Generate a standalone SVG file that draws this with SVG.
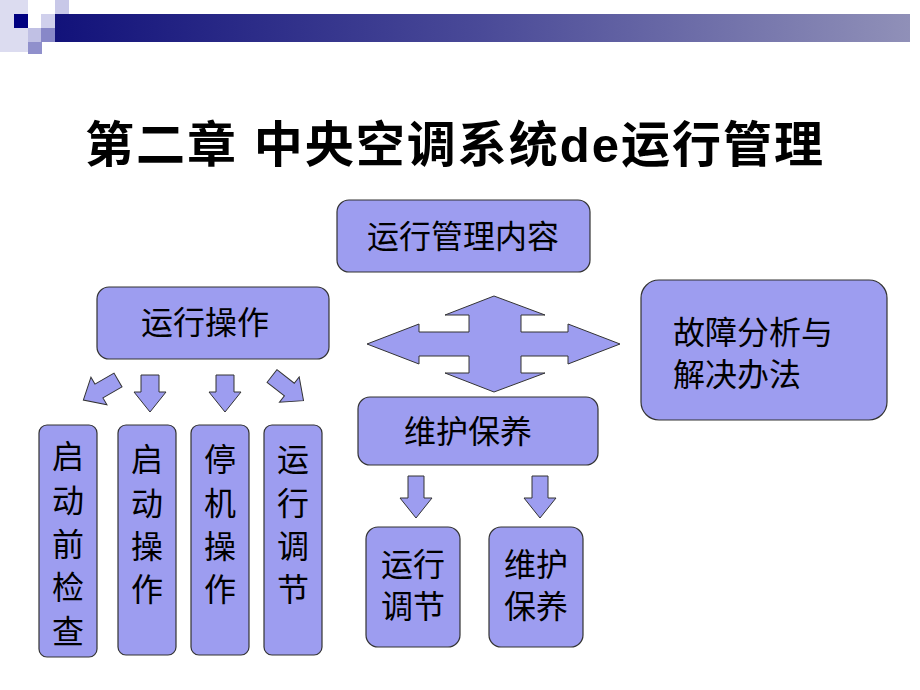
<svg xmlns="http://www.w3.org/2000/svg" width="920" height="690" viewBox="0 0 920 690">
<defs>
<linearGradient id="bar" x1="0" x2="1"><stop offset="0" stop-color="#12127a"/><stop offset="0.5" stop-color="#4a4a98"/><stop offset="1" stop-color="#9090b8"/></linearGradient>
<style>
.b{fill:#9d9df0;stroke:#333;stroke-width:1.2}
.a{fill:#9d9df0;stroke:#333;stroke-width:1}
text{font-family:"Liberation Sans","Noto Sans CJK SC",sans-serif;fill:#000}
.t{font-size:32px}
</style>
</defs>
<rect width="920" height="690" fill="#fff"/>
<rect x="0" y="0" width="28" height="52" fill="#dcdcf0"/>
<rect x="55" y="0" width="14" height="14" fill="#c8c8e8"/>
<rect x="14" y="14" width="14" height="14" fill="#000080"/>
<rect x="41" y="14" width="14" height="14" fill="#d0d0ec"/>
<rect x="55" y="14" width="14" height="14" fill="#a0a0d8"/>
<rect x="28" y="28" width="14" height="14" fill="#c0c0e4"/>
<rect x="41" y="28" width="14" height="14" fill="#8888c8"/>
<rect x="28" y="42" width="14" height="12" fill="#9090cc"/>
<rect x="55" y="14" width="855" height="28" fill="url(#bar)"/>
<text x="455" y="162" text-anchor="middle" font-size="49" font-weight="bold" letter-spacing="2">第二章  中央空调系统de运行管理</text>
<g id="n0"><rect class="b" x="337" y="200" width="253" height="72" rx="12"/><text class="t" x="463" y="248" text-anchor="middle">运行管理内容</text></g>
<g id="n1"><rect class="b" x="97" y="287" width="232" height="72" rx="12"/><text class="t" x="205" y="334" text-anchor="middle">运行操作</text></g>
<g id="n2"><rect class="b" x="641" y="280" width="246" height="140" rx="18"/><text class="t" x="673" y="344">故障分析与</text><text class="t" x="673" y="386">解决办法</text></g>
<g id="n3"><rect class="b" x="358" y="397" width="240" height="68" rx="12"/><text class="t" x="468" y="443" text-anchor="middle">维护保养</text></g>
<g id="n4"><rect class="b" x="39" y="425" width="58" height="232" rx="8"/><text class="t" x="68" y="468" text-anchor="middle">启</text><text class="t" x="68" y="512" text-anchor="middle">动</text><text class="t" x="68" y="556" text-anchor="middle">前</text><text class="t" x="68" y="599" text-anchor="middle">检</text><text class="t" x="68" y="643" text-anchor="middle">查</text></g>
<g id="n5"><rect class="b" x="118" y="425" width="58" height="230" rx="8"/><text class="t" x="147" y="471" text-anchor="middle">启</text><text class="t" x="147" y="515" text-anchor="middle">动</text><text class="t" x="147" y="558" text-anchor="middle">操</text><text class="t" x="147" y="601" text-anchor="middle">作</text></g>
<g id="n6"><rect class="b" x="191" y="425" width="58" height="230" rx="8"/><text class="t" x="220" y="471" text-anchor="middle">停</text><text class="t" x="220" y="515" text-anchor="middle">机</text><text class="t" x="220" y="558" text-anchor="middle">操</text><text class="t" x="220" y="601" text-anchor="middle">作</text></g>
<g id="n7"><rect class="b" x="264" y="425" width="58" height="230" rx="8"/><text class="t" x="293" y="471" text-anchor="middle">运</text><text class="t" x="293" y="515" text-anchor="middle">行</text><text class="t" x="293" y="558" text-anchor="middle">调</text><text class="t" x="293" y="601" text-anchor="middle">节</text></g>
<g id="n8"><rect class="b" x="366" y="527" width="94" height="120" rx="12"/><text class="t" x="413" y="576" text-anchor="middle">运行</text><text class="t" x="413" y="618" text-anchor="middle">调节</text></g>
<g id="n9"><rect class="b" x="489" y="527" width="94" height="120" rx="12"/><text class="t" x="536" y="576" text-anchor="middle">维护</text><text class="t" x="536" y="618" text-anchor="middle">保养</text></g>
<g id="connectors">
<polygon class="a" points="367,344 419,324 419,332 469,332 469,315 445,315 494,296 545,315 521,315 521,332 568,332 568,324 620,344 568,364 568,356 521,356 521,373 545,373 494,392 445,373 469,373 469,356 419,356 419,364"/>
<polygon class="a" points="143,375 161,375 161,392 168,392 152,412 136,392 143,392" transform="translate(-2,0)"/>
<polygon class="a" points="143,375 161,375 161,392 168,392 152,412 136,392 143,392" transform="translate(73,0)"/>
<polygon class="a" points="0,-8 22,-8 22,-16 40,0 22,16 22,8 0,8" transform="translate(118,380) rotate(150)"/>
<polygon class="a" points="0,-8 22,-8 22,-16 40,0 22,16 22,8 0,8" transform="translate(272,376) rotate(38)"/>
<polygon class="a" points="408,476 424,476 424,498 432,498 416,518 400,498 408,498"/>
<polygon class="a" points="532,476 548,476 548,498 556,498 540,518 524,498 532,498"/>
</g>
</svg>
